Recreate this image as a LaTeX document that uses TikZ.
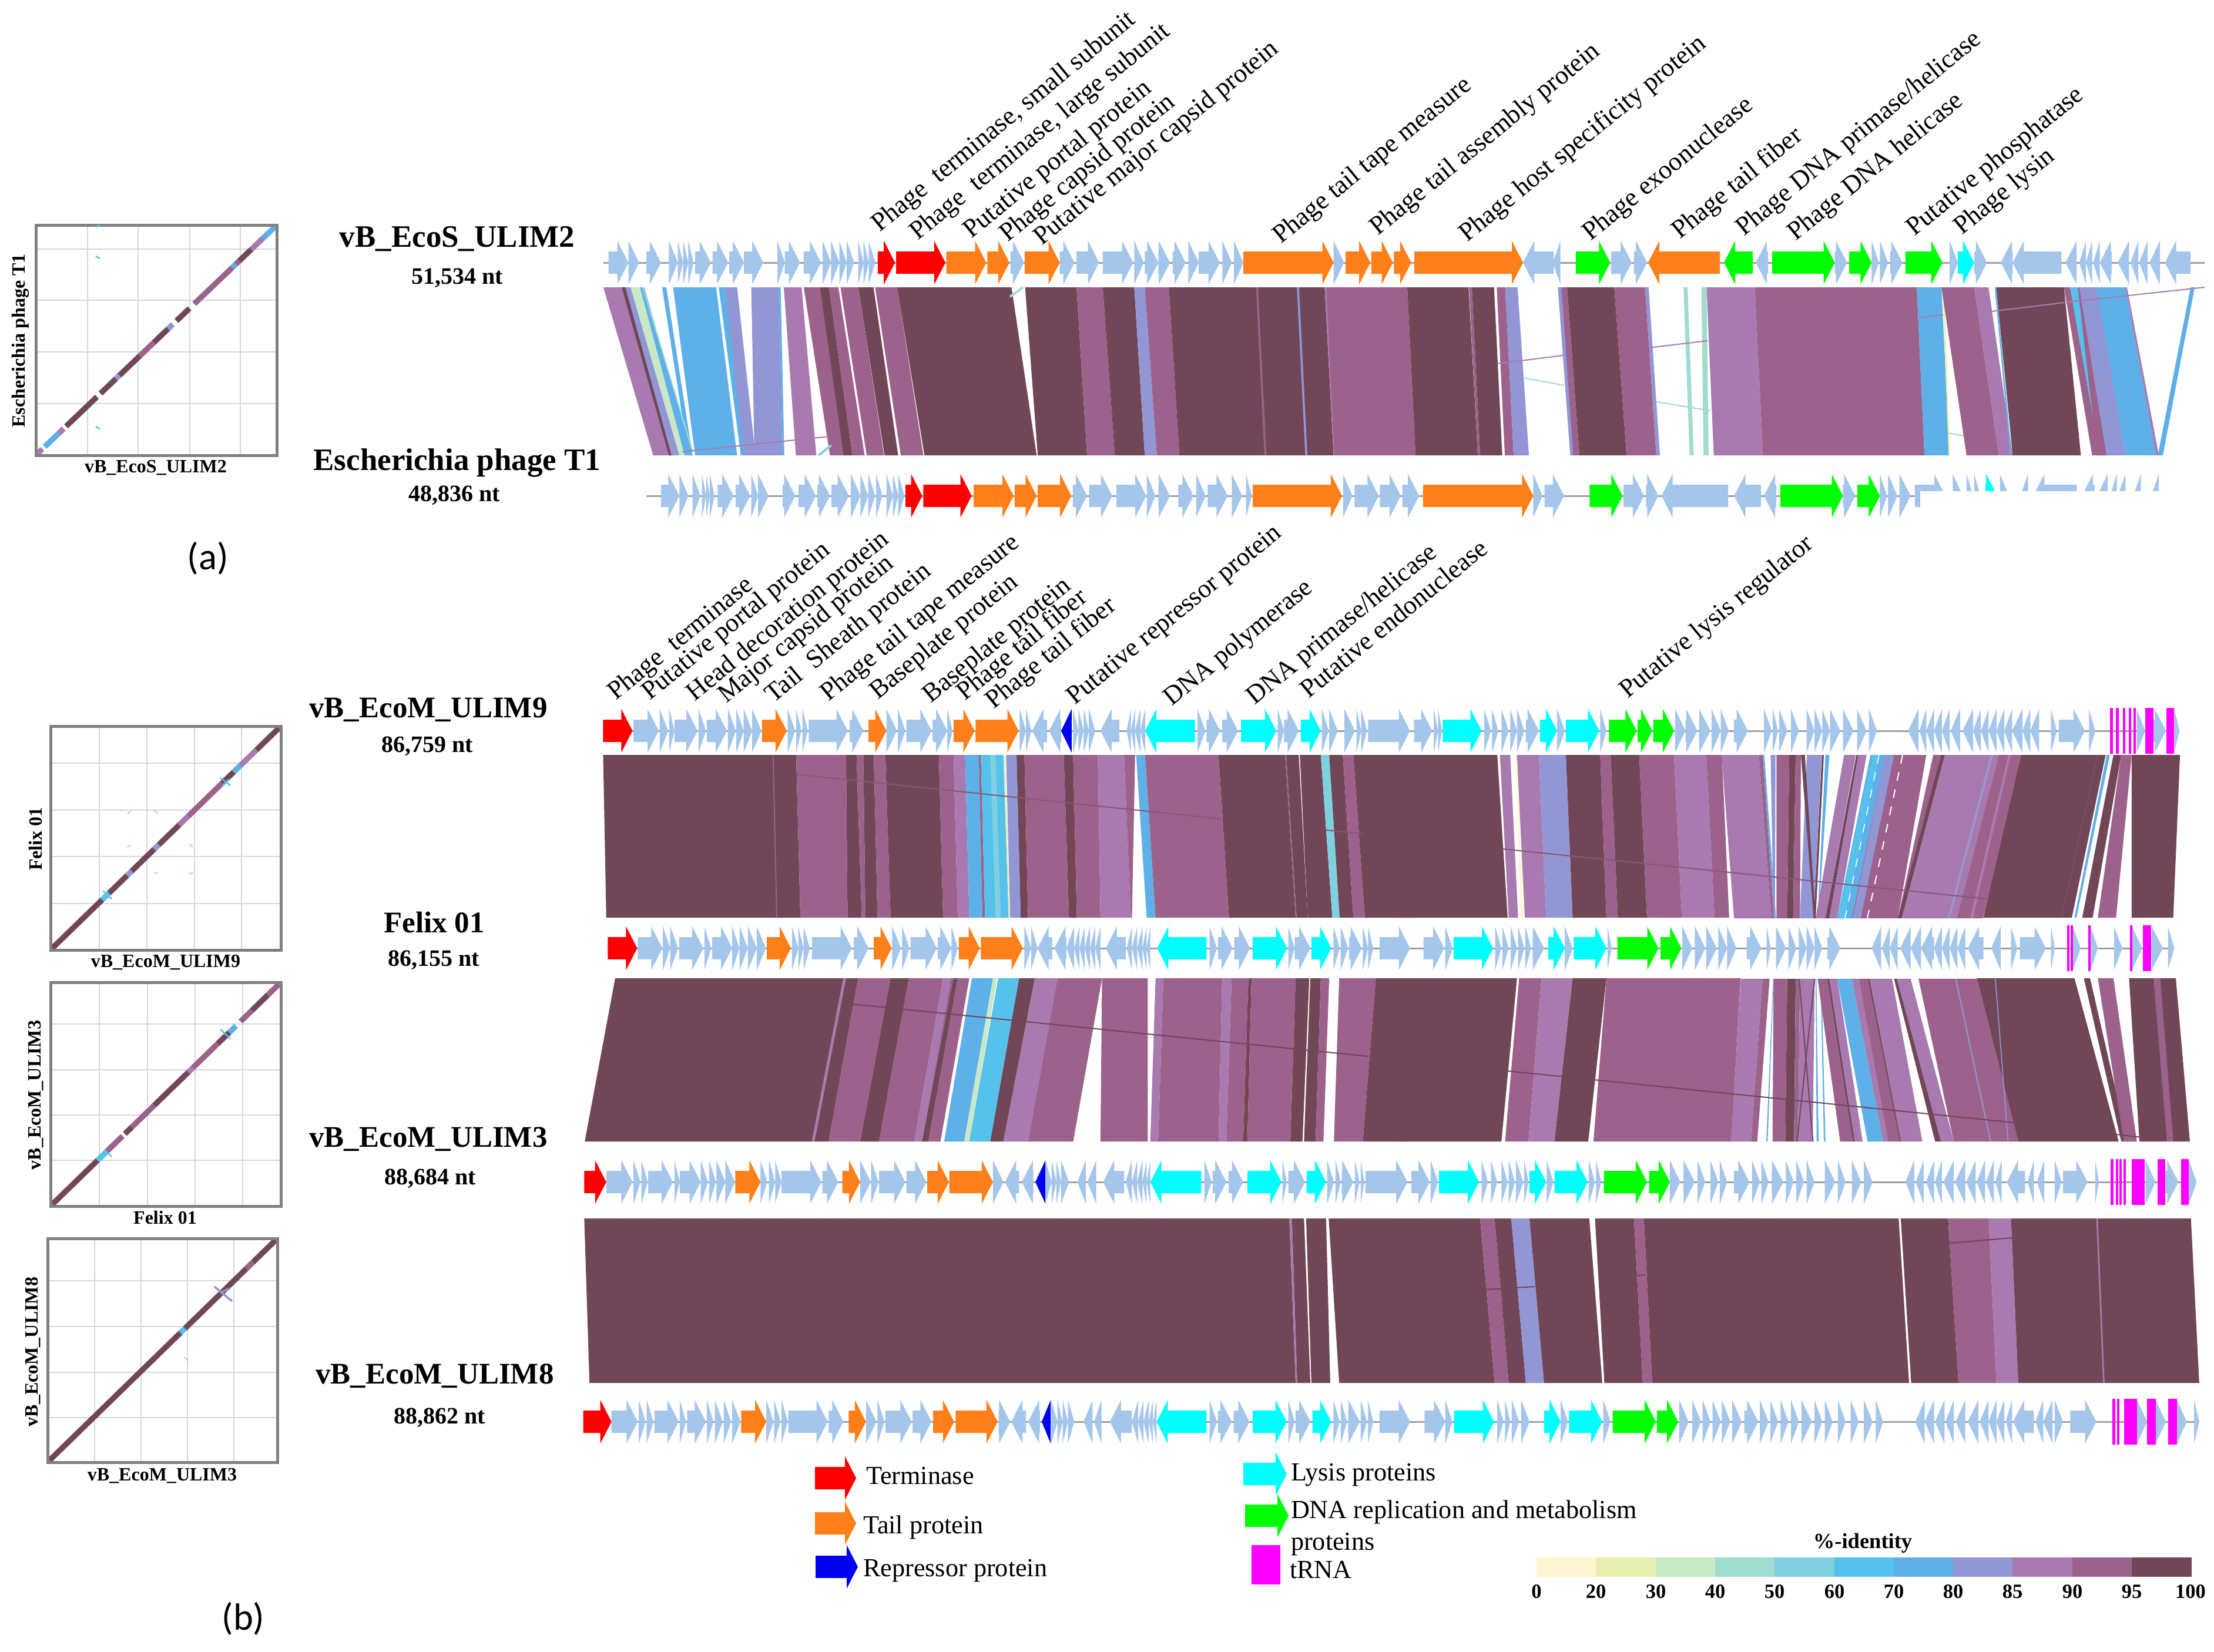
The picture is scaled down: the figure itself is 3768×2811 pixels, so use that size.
\documentclass[tikz,border=0pt]{standalone}
\usepackage{fontspec}
\setmainfont{Liberation Serif}
\newfontfamily\panelfont{Carlito}
\definecolor{c95}{RGB}{113,71,88}
\definecolor{c90}{RGB}{157,98,140}
\definecolor{c85}{RGB}{168,122,176}
\definecolor{c80}{RGB}{146,150,212}
\definecolor{c70}{RGB}{94,176,232}
\definecolor{c60}{RGB}{86,193,234}
\definecolor{c50}{RGB}{127,208,224}
\definecolor{c40}{RGB}{160,220,208}
\definecolor{c30}{RGB}{200,232,200}
\definecolor{c20}{RGB}{232,240,176}
\definecolor{c0}{RGB}{253,246,208}
\definecolor{gb}{RGB}{164,198,234}
\definecolor{gr}{RGB}{255,0,0}
\definecolor{go}{RGB}{255,127,26}
\definecolor{gg}{RGB}{0,255,0}
\definecolor{gc}{RGB}{0,255,255}
\definecolor{gm}{RGB}{255,0,255}
\definecolor{gd}{RGB}{0,0,240}
\definecolor{bb}{RGB}{160,160,160}
\definecolor{fr}{RGB}{128,128,128}
\definecolor{gl}{RGB}{215,215,215}
\colorlet{faint}{c90!55!c95}
\newcommand\settrack[3]{\def\trkoff{#1}\def\trkscl{#2}\def\trky{#3}}
\newcommand\gs[2]{\foreach \pa/\pb in {#2}{%
  \pgfmathsetmacro\xa{\trkoff+\pa/\trkscl}%
  \pgfmathsetmacro\xb{\trkoff+\pb/\trkscl}%
  \pgfmathsetmacro\sgn{\xb>\xa?1:-1}%
  \pgfmathsetmacro\hd{min(19,abs(\xb-\xa))}%
  \pgfmathsetmacro\xh{\xb-\sgn*\hd}%
  \fill[#1] (\xa,{\trky-19})--(\xh,{\trky-19})--(\xh,{\trky-37})--(\xb,\trky)--(\xh,{\trky+37})--(\xh,{\trky+19})--(\xa,{\trky+19})--cycle;}}
\newcommand\ms[1]{\foreach \pa/\pb in {#1}{%
  \pgfmathsetmacro\xa{\trkoff+\pa/\trkscl}%
  \pgfmathsetmacro\xb{\trkoff+\pb/\trkscl}%
  \fill[gm] (\xa,{\trky-39}) rectangle (\xb,{\trky+39});}}
\newcommand\setrib[4]{\def\ribo{#1}\def\ribs{#2}\def\ribt{#3}\def\ribb{#4}}
\newcommand\rb[1]{\foreach \pa/\pb/\pc/\pd/\pe in {#1}{%
  \pgfmathsetmacro\xa{\ribo+\pa/\ribs}%
  \pgfmathsetmacro\xb{\ribo+\pb/\ribs}%
  \pgfmathsetmacro\xc{\ribo+\pc/\ribs}%
  \pgfmathsetmacro\xd{\ribo+\pd/\ribs}%
  \fill[\pe] (\xa,\ribt)--(\xb,\ribt)--(\xd,\ribb)--(\xc,\ribb)--cycle;}}
\newcommand\xl[5]{\draw[#1,line width=0.4pt] (#2,#3)--(#4,#5);}
\newcommand\dplot[7]{%
  \foreach \vv in {#5}{\draw[gl,line width=0.5pt] (\vv,#2)--(\vv,#4);}
  \foreach \hh in {#6}{\draw[gl,line width=0.5pt] (#1,\hh)--(#3,\hh);}
  \foreach \pa/\pb/\pe in {#7}{%
    \pgfmathsetmacro\xa{#1+3+(#3-#1-6)*\pa}\pgfmathsetmacro\xb{#1+3+(#3-#1-6)*\pb}%
    \pgfmathsetmacro\ya{#4-3-(#4-#2-6)*\pa}\pgfmathsetmacro\yb{#4-3-(#4-#2-6)*\pb}%
    \draw[\pe,line width=1.9pt] (\xa,\ya)--(\xb,\yb);}
  \draw[fr,line width=1pt] (#1,#2) rectangle (#3,#4);}
\tikzset{
  glab/.style={rotate=39.3,anchor=base west,inner sep=0pt,xshift=1.8pt,yshift=-0.8pt,font=\fontsize{8.9}{8.9}\selectfont},
  gname/.style={inner sep=0pt,font=\bfseries\fontsize{10.2}{10.2}\selectfont},
  glen/.style={inner sep=0pt,font=\bfseries\fontsize{8}{8}\selectfont},
  dlab/.style={inner sep=0pt,font=\bfseries\fontsize{6.4}{6.4}\selectfont},
  plab/.style={inner sep=0pt,font=\panelfont\fontsize{12.9}{12.9}\selectfont},
  leg/.style={inner sep=0pt,anchor=west,font=\fontsize{8.85}{8.85}\selectfont},
  tick/.style={inner sep=0pt,font=\bfseries\fontsize{6.9}{6.9}\selectfont},
}
\begin{document}
\begin{tikzpicture}[x=0.2pt,y=-0.2pt]
\useasboundingbox (0,0) rectangle (3768,2811);
\fill[white] (0,0) rectangle (3768,2811);
%% ---------- ribbons ULIM2 - T1
\setrib{1000}{1.12}{489}{775}
\rb{30/68/125/160/c85,65/75/155/168/c95,72/82/160/175/c80,82/100/175/190/c30,100/108/185/200/c70,
 142/150/192/200/c70,163/245/205/285/c70,250/262/292/300/c70,262/285/298/320/c80,312/364/318/372/c80,364/368/372/375/c70,
 374/408/397/436/c85,412/445/462/492/c90,443/460/488/505/c95,460/478/505/528/c90,482/516/532/565/c90,516/545/566/592/c95,
 548/590/597/640/c90,590/808/642/856/c95,834/932/858/952/c95,932/982/952/1005/c90,982/1042/1005/1062/c95,
 1042/1062/1062/1085/c80,1062/1108/1085/1128/c90,1108/1405/1128/1422/c95,1274/1278/1290/1294/c90,1352/1356/1368/1372/c80,1405/1410/1422/1426/c85}
\xl{c40}{1094}{489}{1179}{769}
\draw[c40,line width=0.8pt] (1719,505)--(1741,489);
\draw[c50,line width=0.8pt] (1393,775)--(1415,758);
\setrib{2200}{3}{489}{775}
\rb{172/585/213/627/c90,585/898/627/945/c95,900/915/945/957/c90,915/1028/957/1070/c95,1042/1085/1083/1128/c90,1085/1148/1128/1206/c80}
\setrib{2400}{1.146}{489}{775}
\rb{288/298/312/320/c80,295/306/318/330/c90,306/398/330/422/c95,398/458/422/480/c90,458/465/480/487/c80,
 533/541/545/553/c40,568/578/572/582/c40,578/672/592/688/c85,672/988/688/1003/c90,988/1036/1003/1052/c70,
 1038/1041/1050/1053/c20,1036/1100/1085/1148/c90,1100/1128/1148/1175/c85,1140/1143/1170/1173/c70,1143/1275/1175/1308/c95,
 1275/1287/1330/1345/c90,1287/1305/1345/1358/c60,1302/1308/1340/1365/c90,1305/1340/1358/1395/c80,1338/1395/1395/1455/c70,1395/1398/1455/1460/c85,1522/1530/1458/1468/c70}
\xl{c85}{1161}{769}{1411}{743}
\xl{c85}{2548}{619}{2660}{605}
\xl{c85}{2806}{592}{2906}{580}
\xl{c85}{3262}{541}{3307}{536}
\xl{c85}{3390}{530}{3521}{514}
\xl{c85}{3521}{514}{3752}{489}
\xl{c40}{2592}{643}{2662}{656}
\xl{c40}{2819}{684}{2910}{699}
\xl{c40}{3316}{737}{3342}{742}
%% ---------- ribbons ULIM9 - Felix
\setrib{980}{1.12}{1285}{1562}
\rb{52/420/58/428/c95,375/377/382/384/c90,420/515/428/518/c90,515/535/518/545/c95,535/548/545/552/c90,548/568/552/575/c95,568/590/575/600/c90,
 590/692/600/700/c95,692/720/700/728/c90,720/742/728/750/c85,742/768/750/775/c70,768/772/775/780/c90,772/815/780/825/c60,790/800/800/810/c50,
 815/818/825/828/c20,820/840/828/848/c80,840/855/848/862/c95,855/930/862/940/c90,930/948/940/955/c95,948/995/955/1000/c90,995/1045/1000/1058/c85,
 1045/1066/1058/1060/c90,1068/1085/1088/1105/c70,1085/1225/1105/1245/c90,1225/1352/1245/1372/c95,1352/1354/1372/1374/c90,1354/1378/1374/1395/c95,1380/1420/1395/1442/c95,
 1420/1436/1442/1456/c50,1436/1462/1456/1482/c95,1462/1482/1482/1504/c90,1482/1580/1504/1600/c95}
\setrib{2380}{1.13}{1285}{1562}
\rb{0/190/0/210/c95,195/215/212/230/c85,225/228/235/240/c0,228/270/243/284/c85,270/322/284/335/c80,322/388/335/400/c95,388/408/400/422/c90,
 408/463/422/478/c95,463/530/478/545/c90,530/592/545/608/c85,592/622/608/636/c90,
 1195/1345/1125/1275/c95,1345/1360/1275/1295/c95,1375/1390/1315/1335/c95,1390/1410/1345/1380/c90,1410/1503/1410/1490/c95,1362/1368/1300/1304/c70}
\setrib{2950}{3}{1285}{1563}
\rb{-60/130/3/195/c85,130/150/195/208/c90,150/158/208/218/c70,190/215/205/212/c80,220/285/220/275/c90,285/318/275/305/c95,318/345/305/340/c90,
 375/450/340/410/c80,345/365/410/420/c95,452/462/410/420/c95,470/490/430/434/c70,565/625/420/470/c85,628/638/470/490/c95,638/680/490/530/c85,
 700/775/530/605/c70,710/745/530/570/c60,775/780/605/610/c90,775/820/610/650/c80,820/985/650/840/c90,1020/1060/840/845/c90,1060/1080/840/860/c95,
 1080/1315/860/1095/c85,1315/1325/1095/1105/c80,1325/1355/1105/1140/c85,1355/1405/1140/1210/c90,1405/1415/1210/1222/c85,1415/1470/1222/1275/c90}
\draw[white,dashed,line width=0.4pt] (3238,1285)--(3178,1563);
\draw[white,dashed,line width=0.3pt] (3198,1285)--(3140,1563);
\xl{faint}{1355}{1318}{2078}{1394}
\xl{faint}{2257}{1413}{2319}{1419}
\xl{faint}{2557}{1445}{3380}{1530}
%% ---------- ribbons Felix - ULIM3
\setrib{980}{1.12}{1665}{1943}
\rb{75/510/17/450/c95,510/515/450/455/c85,515/538/455/482/c95,538/600/482/542/c90,600/635/542/578/c95,635/700/578/645/c90,700/715/645/660/c85,715/720/660/670/c90,
 720/728/660/672/c95,728/750/672/695/c90,755/795/702/750/c70,795/803/740/750/c30,805/845/750/790/c60,845/875/790/815/c95,875/918/815/862/c85,918/1003/862/948/c90,
 1003/1090/1000/1090/c90,1105/1120/1095/1110/c85,1120/1232/1110/1225/c90,1232/1250/1225/1240/c85,1250/1282/1240/1272/c90,1282/1288/1272/1280/c95,1288/1372/1280/1362/c90,
 1372/1398/1362/1385/c95,1400/1420/1388/1410/c95,1420/1436/1410/1425/c90,1455/1525/1445/1500/c90,1525/1600/1500/1580/c95}
\setrib{2380}{1.13}{1665}{1943}
\rb{0/228/0/198/c95,232/275/205/250/c90,275/335/250/300/c85,335/400/300/365/c95,400/658/375/640/c90,
 1112/1300/1190/1385/c95,1318/1330/1390/1402/c95,1345/1375/1395/1420/c90,1405/1495/1425/1522/c95,1452/1465/1478/1490/c90}
\setrib{2950}{3}{1666}{1943}
\rb{38/150/-12/90/c85,150/185/90/122/c90,203/206/168/175/c70,205/275/200/265/c90,275/318/265/310/c95,318/340/310/330/c90,340/415/330/405/c85,
 333/339/403/409/c95,412/418/322/328/c95,420/424/425/435/c70,445/450/462/470/c70,430/480/545/610/c90,480/490/610/620/c95,490/530/620/660/c85,
 530/605/685/765/c70,605/640/765/790/c85,640/695/790/855/c90,688/695/850/857/c95,695/810/855/965/c85,820/835/1030/1060/c95,835/905/1060/1125/c85,
 945/1245/1125/1455/c90,1132/1138/1310/1316/c80,1335/1340/1400/1405/c80}
\xl{c95}{1449}{1709}{2328}{1798}
\xl{c95}{2566}{1823}{3429}{1911}
\xl{c95}{3429}{1911}{3645}{1936}
%% ---------- ribbons ULIM3 - ULIM8
\setrib{980}{1.12}{2074}{2354}
\rb{16/1360/26/1372/c95,1360/1365/1372/1375/c85,1365/1388/1375/1400/c95,1392/1430/1402/1438/c95,1435/1568/1455/1568/c95}
\setrib{2380}{1.13}{2074}{2354}
\rb{0/157/0/185/c95,157/185/185/212/c90,185/217/212/245/c95,217/252/245/280/c80,252/367/280/392/c95,378/453/396/470/c95,453/472/470/488/c90,
 472/962/488/982/c95,966/1057/986/1077/c95,1057/1135/1077/1150/c90,1135/1178/1150/1192/c85,1178/1524/1192/1540/c95,1342/1345/1355/1358/c85}
\xl{c95}{2529}{2195}{2612}{2190}
\xl{c95}{2787}{2171}{2800}{2170}
\xl{c95}{3318}{2116}{3424}{2107}
%% ---------- tracks
%% ULIM2
\draw[bb,line width=0.6pt] (1027,447)--(3752,447);
\settrack{1000}{1.12}{447}
\gs{gb}{40/78,78/98,112/140,155/172,172/182,182/192,192/202,205/235,238/268,270/298,298/335,362/376,376/405,412/445,448/464,464/480,480/494,494/508,516/526,526/536,536/548,806/832,900/928,932/975,982/1040,1042/1060,1062/1088,1088/1110,1115/1140,1145/1165,1165/1205,1210/1228,1232/1250,1422/1442}
\gs{gr}{553/586,588/682}
\gs{go}{684/760,762/804,833/900,1250/1422,1445/1492,1494/1535,1537/1570}
\settrack{2400}{1.146}{447}
\gs{go}{8/220,604/464}
\gs{gg}{323/390,668/612,706/828,856/900,966/1038}
\gs{gc}{1068/1100}
\gs{gb}{280/220,293/278,392/432,436/462,698/674,828/852,900/914,916/932,936/960,1052/1068,1100/1125,1175/1152,1270/1175,1300/1278,1318/1305,1330/1318,1345/1332,1368/1345,1402/1380,1420/1405,1438/1422,1462/1442,1522/1472}
%% T1
\draw[bb,line width=0.6pt] (1100,844)--(3259,844);
\settrack{1000}{1.12}{844}
\gs{gb}{140/175,175/192,200/215,218/226,226/233,233/242,248/278,282/310,312/325,325/345,372/396,402/435,438/462,465/498,502/520,520/535,535/548,550/562,570/582,582/592,592/604,925/952,956/1000,1008/1065,1066/1082,1088/1110,1126/1155,1160/1178,1182/1220,1228/1248,1255/1266,1440/1458,1462/1508,1510/1550,1553/1585}
\gs{gr}{606/638,640/732}
\gs{go}{736/812,814/856,858/922,1268/1438}
\settrack{2400}{1.146}{844}
\gs{go}{25/240}
\gs{gg}{350/414,722/844,872/916}
\gs{gb}{240/258,262/300,416/456,460/484,620/490,684/632,714/690,844/868,916/930,932/950,954/976}
\begin{scope}
\clip (3250,800) rectangle (3768,835);
\gs{gb}{984/1044,1058/1078,1085/1098,1100/1112,1150/1168,1205/1190,1300/1215,1335/1310,1360/1340,1378/1365,1395/1380,1425/1410,1460/1445}
\gs{gc}{1122/1145}
\end{scope}
\fill[gb] (3259,825) rectangle (3268,863);
%% ULIM9
\draw[bb,line width=0.6pt] (1026,1244)--(3709,1244);
\settrack{980}{1.12}{1244}
\gs{gr}{52/108}
\gs{go}{355/402,558/592,720/760,762/844}
\gs{gd}{945/925}
\gs{gc}{1180/1085,1268/1335,1382/1420}
\gs{gb}{110/158,160/176,178/188,188/232,234/248,250/288,290/305,306/320,320/336,336/354,404/418,420/430,432/442,444/518,522/548,592/612,614/628,630/678,680/708,708/718,846/858,858/868,898/870,925/902,948/958,958/968,968/978,978/990,1036/1000,1058/1050,1066/1058,1076/1066,1085/1076,1185/1200,1202/1228,1232/1262,1338/1350,1350/1378,1422/1435,1436/1452,1465/1485,1488/1497,1497/1508,1510/1590}
\settrack{2380}{1.13}{1244}
\gs{gc}{85/160,272/305,322/386}
\gs{gg}{405/458,460/488,490/530}
\gs{gb}{30/65,68/76,76/84,165/178,180/192,198/212,215/228,228/242,245/270,305/320,388/400,532/552,552/575,578/600,602/620,620/635,645/672,703/718,720/730,732/748,755/770,785/800,800/815,815/830,830/850,855/875,882/900,905/920,1000/980,1015/1002,1030/1015,1045/1030,1060/1045,1080/1062,1105/1085,1120/1105,1135/1120,1150/1135,1165/1150,1180/1165,1200/1180,1215/1200,1232/1215,1255/1266,1270/1320,1328/1340,1420/1436,1452/1476,1492/1502}
\ms{1368/1374,1380/1385,1393/1398,1404/1409,1414/1418,1436/1452,1477/1492}
%% Felix
\draw[bb,line width=0.6pt] (1034,1614)--(3700,1614);
\settrack{980}{1.12}{1614}
\gs{gr}{61/117}
\gs{go}{364/410,568/602,730/770,772/852}
\gs{gc}{1202/1108,1290/1356,1402/1440}
\gs{gb}{118/165,166/180,180/195,197/243,245/258,260/298,298/312,312/328,328/345,345/362,412/424,424/434,434/446,450/526,530/558,603/620,622/636,638/688,690/716,716/728,855/868,868/880,908/880,935/912,950/935,960/950,970/960,980/970,990/980,1000/990,1048/1010,1060/1050,1070/1060,1080/1070,1088/1080,1095/1088,1208/1222,1224/1252,1255/1285,1358/1370,1370/1400,1444/1456,1458/1472,1474/1498,1500/1510,1510/1520,1532/1590}
\settrack{2380}{1.13}{1614}
\gs{gc}{106/182,288/320,337/400}
\gs{gg}{421/500,504/544}
\gs{gb}{48/88,90/104,186/198,200/212,216/228,230/242,244/255,258/280,320/335,402/410,546/565,570/590,592/612,615/632,632/650,670/698,708/716,726/745,750/765,770/785,785/800,800/815,825/850,928/910,945/930,960/945,985/965,1005/985,1030/1005,1045/1030,1060/1045,1075/1060,1090/1075,1125/1095,1158/1140,1178/1190,1195/1245,1255/1262,1297/1312,1331/1345,1376/1392,1411/1430,1448/1470,1480/1492}
\ms{1286/1290,1293/1297,1327/1331,1407/1411,1432/1448}
%% ULIM3
\draw[bb,line width=0.6pt] (994,2012)--(3738,2012);
\settrack{980}{1.12}{2012}
\gs{gr}{16/58}
\gs{go}{304/352,508/542,670/711,712/795}
\gs{gd}{895/876}
\gs{gc}{1192/1095,1280/1345,1393/1430}
\gs{gb}{58/108,110/123,125/137,138/185,188/198,198/238,238/252,254/267,268/285,285/303,352/365,368/380,380/392,392/468,470/500,542/562,563/577,578/628,630/668,795/815,845/818,872/850,895/907,907/916,916/925,925/940,972/956,992/975,1045/1005,1060/1048,1070/1060,1080/1070,1088/1080,1095/1088,1198/1212,1214/1240,1244/1272,1347/1355,1358/1390,1432/1445,1448/1458,1460/1482,1485/1494,1496/1503,1505/1585}
\settrack{2380}{1.13}{2012}
\gs{gc}{78/155,252/284,300/364}
\gs{gg}{395/478,482/522}
\gs{gb}{25/60,62/76,160/172,178/190,198/210,212/224,226/240,242/250,285/298,366/378,380/390,522/542,548/570,575/590,600/615,618/632,645/675,680/695,698/712,718/740,745/760,765/780,785/800,820/840,845/860,872/890,895/912,992/975,1010/995,1030/1015,1045/1032,1068/1048,1090/1070,1110/1092,1128/1112,1145/1130,1160/1148,1205/1170,1222/1210,1242/1228,1262/1275,1278/1325,1340/1347,1437/1456,1475/1500,1520/1535}
\ms{1370/1375,1380/1384,1387/1391,1394/1399,1410/1435,1460/1475,1505/1520}
%% ULIM8
\draw[bb,line width=0.6pt] (994,2420)--(3743,2420);
\settrack{980}{1.12}{2420}
\gs{gr}{14/68}
\gs{go}{315/363,520/553,681/721,724/804}
\gs{gd}{905/888}
\gs{gc}{1202/1107,1290/1355,1404/1440}
\gs{gb}{68/118,120/133,135/148,150/196,198/210,212/248,250/262,265/280,282/296,298/314,363/377,378/390,392/404,405/480,482/510,553/573,575/588,590/640,642/678,806/828,858/830,885/862,906/918,918/928,928/938,938/950,985/968,1002/988,1060/1018,1072/1060,1082/1072,1092/1082,1100/1092,1107/1100,1208/1222,1224/1250,1254/1284,1358/1370,1372/1400,1444/1456,1458/1470,1472/1494,1496/1508,1510/1520,1532/1590}
\settrack{2380}{1.13}{2420}
\gs{gc}{107/184,280/312,328/392}
\gs{gg}{412/495,497/538}
\gs{gb}{50/90,90/104,190/202,205/215,218/232,236/252,312/326,394/408,540/558,565/582,585/600,604/620,622/638,642/660,665/692,695/712,715/730,735/750,755/770,775/795,800/815,820/835,845/860,870/885,895/912,918/932,1012/994,1030/1012,1050/1032,1068/1052,1090/1072,1115/1095,1135/1118,1150/1135,1165/1150,1180/1168,1222/1182,1240/1225,1258/1240,1262/1278,1292/1342,1420/1440,1456/1476,1497/1516,1530/1540}
\ms{1373/1378,1382/1387,1395/1420,1440/1456,1480/1497}
%% ---------- gene labels
\node[glab] (t1) at (1487,399) {Phage~~terminase, small subunit};
\node[glab] (t2) at (1552,413) {Phage~~terminase, large subunit};
\node[glab] (t3) at (1643,410) {Putative portal protein};
\node[glab] (t4) at (1705,416) {Phage capsid protein};
\node[glab] (t5) at (1763,422) {Putative major capsid protein};
\node[glab] (t6) at (2170,419) {Phage tail tape measure};
\node[glab] (t7) at (2335,405) {Phage tail assembly protein};
\node[glab] (t8) at (2487,416) {Phage host specificity protein};
\node[glab] (t9) at (2697,414) {Phage exoonuclease};
\node[glab] (t10) at (2849,411) {Phage tail fiber};
\node[glab] (t11) at (2958,406) {Phage DNA primase/helicase};
\node[glab] (t12) at (3046,414) {Phage DNA helicase};
\node[glab] (t13) at (3248,406) {Putative phosphatase};
\node[glab] (t14) at (3329,404) {Phage lysin};
\node[glab] (u1) at (1038,1196) {Phage~~terminase};
\node[glab] (u2) at (1096,1196) {Putative portal protein};
\node[glab] (u3) at (1172,1198) {Head decoration protein};
\node[glab] (u4) at (1226,1201) {Major capsid protein};
\node[glab] (u5) at (1306,1201) {Tail~~Sheath protein};
\node[glab] (u6) at (1400,1198) {Phage tail tape measure};
\node[glab] (u7) at (1484,1195) {Baseplate protein};
\node[glab] (u8) at (1574,1201) {Baseplate protein};
\node[glab] (u9) at (1632,1197) {Phage tail fiber};
\node[glab] (u10) at (1681,1211) {Phage tail fiber};
\node[glab] (u11) at (1819,1204) {Putative repressor protein};
\node[glab] (u12) at (1984,1206) {DNA polymerase};
\node[glab] (u13) at (2125,1204) {DNA primase/helicase};
\node[glab] (u14) at (2217,1193) {Putative endonuclease};
\node[glab] (u15) at (2760,1193) {Putative lysis regulator};
%% ---------- genome names
\node[gname,font=\bfseries\fontsize{10.6}{10.6}\selectfont] (n1) at (778,407) {vB\_EcoS\_ULIM2};
\node[glen] (l1) at (778,473) {51,534 nt};
\node[gname,font=\bfseries\fontsize{10.6}{10.6}\selectfont] (n2) at (778,788) {Escherichia phage T1};
\node[glen] (l2) at (773,843) {48,836 nt};
\node[gname] (n3) at (729,1208) {vB\_EcoM\_ULIM9};
\node[glen] (l3) at (727,1270) {86,759 nt};
\node[gname] (n4) at (739,1570) {Felix 01};
\node[glen] (l4) at (738,1634) {86,155 nt};
\node[gname] (n5) at (729,1939) {vB\_EcoM\_ULIM3};
\node[glen] (l5) at (732,2006) {88,684 nt};
\node[gname] (n6) at (740,2342) {vB\_EcoM\_ULIM8};
\node[glen] (l6) at (748,2413) {88,862 nt};
\node[plab] (pa) at (354,950) {(a)};
\node[plab] (pb) at (414,2755) {(b)};
%% ---------- dot plots
\dplot{61}{383}{471}{775}{149,235,323,409}{424,511,599,687}{0/.02/c85,.03/.09/c70,.09/.11/c85,.12/.25/c95,.265/.33/c95,.33/.345/c80,.345/.43/c95,.43/.49/c90,.49/.55/c95,.55/.57/c80,.585/.64/c95,.66/.82/c90,.82/.835/c70,.835/.85/c90,.85/.90/c95,.90/.95/c85,.95/1/c70}
\draw[c60,line width=0.5pt] (163,386)--(170,384) (163,436)--(170,440) (163,726)--(170,730);
\node[dlab] (dx1) at (265,796) {vB\_EcoS\_ULIM2};
\node[dlab,rotate=90] (dy1) at (35,580) {Escherichia phage T1};
\dplot{86}{1236}{478}{1617}{169,250,331,411}{1299,1379,1458,1538}{0/.22/c95,.22/.25/c60,.25/.33/c95,.33/.35/c80,.35/.45/c95,.45/.47/c80,.47/.56/c95,.56/.6/c85,.6/.75/c90,.75/.8/c95,.8/.83/c70,.83/.9/c85,.9/1/c95}
\draw[c40,line width=0.4pt] (217,1385)--(223,1381) (263,1380)--(269,1384) (217,1442)--(223,1438) (322,1437)--(328,1441) (263,1487)--(269,1485) (322,1488)--(328,1485);
\draw[c60,line width=0.5pt] (375,1324)--(392,1337) (378,1338)--(390,1326) (175,1516)--(190,1530);
\node[dlab] (dx2) at (282,1638) {vB\_EcoM\_ULIM9};
\node[dlab,rotate=90] (dy2) at (61,1428) {Felix 01};
\dplot{86}{1672}{478}{2053}{169,251,332,413}{1743,1821,1898,1975}{0/.2/c95,.2/.24/c60,.24/.31/c90,.32/.35/c95,.35/.45/c90,.45/.6/c95,.6/.62/c85,.62/.73/c90,.73/.78/c95,.78/.81/c70,.83/.88/c90,.88/.95/c95,.95/1/c90}
\draw[c60,line width=0.5pt] (375,1752)--(392,1768) (178,1957)--(190,1969);
\node[dlab] (dx3) at (281,2073) {Felix 01};
\node[dlab,rotate=90] (dy3) at (61,1864) {vB\_EcoM\_ULIM3};
\dplot{81}{2108}{472}{2489}{161,240,319,398}{2180,2258,2336,2413}{0/.58/c95,.58/.6/c60,.6/.78/c95,.78/.9/c95,.87/.9/c90,.9/1/c95}
\draw[c80,line width=0.7pt] (365,2190)--(395,2215) (375,2200)--(392,2193);
\draw[c40,line width=0.4pt] (313,2310)--(320,2316);
\node[dlab] (dx4) at (276,2512) {vB\_EcoM\_ULIM3};
\node[dlab,rotate=90] (dy4) at (56,2301) {vB\_EcoM\_ULIM8};
%% ---------- legend
\settrack{0}{1}{2516}\gs{gr}{1387/1457}
\settrack{0}{1}{2593}\gs{go}{1387/1457}
\settrack{0}{1}{2667}\gs{gd}{1388/1460}
\settrack{0}{1}{2509}\gs{gc}{2116/2190}
\settrack{0}{1}{2580}\gs{gg}{2119/2193}
\fill[gm] (2130,2630) rectangle (2179,2697);
\node[leg] (k1) at (1473,2512) {Terminase};
\node[leg] (k2) at (1468,2600) {Tail protein};
\node[leg] (k3) at (1468,2674) {Repressor protein};
\node[leg] (k4) at (2196,2511) {Lysis proteins};
\node[leg] (k5) at (2196,2574) {DNA replication and metabolism};
\node[leg] (k6) at (2196,2629) {proteins};
\node[leg] (k7) at (2194,2672) {tRNA};
\node[inner sep=0pt,font=\bfseries\fontsize{7.3}{7.3}\selectfont] (id) at (3170,2627) {\%-identity};
\foreach \sx/\sc/\sl [count=\si from 0] in {2615/c0/0,2716/c20/20,2818/c30/30,2919/c40/40,3020/c50/50,3122/c60/60,3223/c70/70,3324/c80/80,3425/c85/85,3527/c90/90,3628/c95/95}{
  \pgfmathsetmacro\sxe{\sx+101.5}
  \fill[\sc] (\sx,2651) rectangle (\sxe,2684);
  \node[tick] (tk\si) at (\sx,2709) {\sl};
}
\node[tick] (tk11) at (3728,2709) {100};
\end{tikzpicture}
\end{document}
